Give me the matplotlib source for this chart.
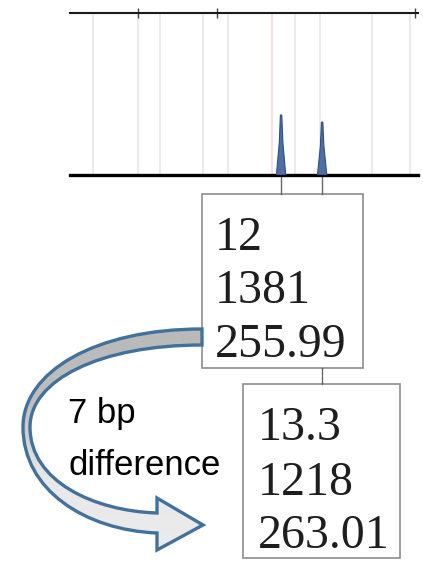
import numpy as np
import matplotlib.pyplot as plt
from matplotlib.path import Path
from matplotlib.patches import PathPatch, Rectangle
from matplotlib.colors import LinearSegmentedColormap

# peaks (allele call, height in RFU, size in bp)
peak_allele = ['12', '13.3']
peak_rfu = [1381, 1218]
peak_bp = [255.99, 263.01]
# faint bin lines and scale ticks of the electropherogram (bp)
bin_lines = [223.9, 231.6, 235.3, 242.7, 246.9, 254.5, 258.4, 262.7, 271.5, 278.0]
bin_colors = ['#ebebeb'] * 5 + ['#f6e2e0'] + ['#ebebeb'] * 4
scale_ticks = [231.5, 245.0, 278.9]

W, H = 423, 562
fig = plt.figure(figsize=(W / 100, H / 100), dpi=100)
fig.patch.set_facecolor('white')

# electropherogram panel
ax = fig.add_axes([70 / W, 1 - 175 / H, 348 / W, 162 / H])
ax.set_xlim(219.9, 279.4)
ax.set_ylim(0, 3730)
for b, c in zip(bin_lines, bin_colors):
    ax.axvline(b, color=c, lw=1.5, zorder=1)
for x, h in zip(peak_bp, peak_rfu):
    ax.fill([x - 0.8, x - 0.3, x - 0.12, x + 0.12, x + 0.3, x + 0.8],
            [0, h * 0.55, h, h, h * 0.55, 0],
            facecolor='#4d6fa3', edgecolor='#2f4f82', lw=0.8, zorder=3)
ax.spines['left'].set_visible(False)
ax.spines['right'].set_visible(False)
ax.spines['bottom'].set_linewidth(2.4)
ax.spines['top'].set_linewidth(1.5)
ax.spines['top'].set_color('#1a1a1a')
ax.set_yticks([])
ax.set_xticks(scale_ticks)
ax.tick_params(axis='x', top=True, bottom=False, labeltop=False, labelbottom=False,
               direction='inout', length=7, width=1, color='#444444')

# overlay in pixel coordinates for boxes, connectors and arrow
ov = fig.add_axes([0, 0, 1, 1], zorder=5)
ov.set_xlim(0, W)
ov.set_ylim(H, 0)
ov.axis('off')

def to_px(x):
    dx, dy = ax.transData.transform((x, 0))
    return dx, H - dy

px = [to_px(x)[0] for x in peak_bp]
base_y = to_px(peak_bp[0])[1]

boxes = [(202, 194, 363, 368), (243, 384, 400, 558)]
text_x = [215, 258]
text_y = [[250, 303, 357], [440, 495, 548]]

for x in px:
    ov.plot([x, x], [base_y + 2, boxes[0][1]], color='#666666', lw=1)
ov.plot([px[1], px[1]], [boxes[0][3], boxes[1][1]], color='#666666', lw=1)

for i, (x0, y0, x1, y1) in enumerate(boxes):
    ov.add_patch(Rectangle((x0, y0), x1 - x0, y1 - y0, facecolor='white',
                           edgecolor='#8c8c8c', lw=1.2))
    vals = [peak_allele[i], str(peak_rfu[i]), f'{peak_bp[i]:.2f}']
    for v, ty in zip(vals, text_y[i]):
        ov.text(text_x[i], ty, v, family='Liberation Serif', fontsize=34.5,
                color='#1e1e1e', va='baseline', ha='left')

# curved block arrow
verts = [
    (202, 329),
    (95, 329), (23, 372), (23, 427),
    (23, 490), (85, 530), (157, 533),
    (157, 550), (203, 525), (157, 498), (157, 513),
    (95, 511), (30, 482), (30, 427),
    (30, 380), (100, 345), (202, 345),
    (202, 329),
]
codes = [Path.MOVETO,
         Path.CURVE4, Path.CURVE4, Path.CURVE4,
         Path.CURVE4, Path.CURVE4, Path.CURVE4,
         Path.LINETO, Path.LINETO, Path.LINETO, Path.LINETO,
         Path.CURVE4, Path.CURVE4, Path.CURVE4,
         Path.CURVE4, Path.CURVE4, Path.CURVE4,
         Path.CLOSEPOLY]
arrow = PathPatch(Path(verts, codes), facecolor='none', edgecolor='#41719c',
                  lw=2.4, zorder=6, joinstyle='miter')
grad = np.linspace(0, 1, 256).reshape(-1, 1)
cmap = LinearSegmentedColormap.from_list('g', ['#b9b9b9', '#bfbfbf', '#e8e8e8', '#ececec'])
img = ov.imshow(grad, cmap=cmap, extent=(20, 206, 552, 326), aspect='auto', zorder=5)
clip = PathPatch(Path(verts, codes), facecolor='none', edgecolor='none')
ov.add_patch(clip)
img.set_clip_path(clip)
ov.add_patch(arrow)
ov.set_xlim(0, W)
ov.set_ylim(H, 0)

diff = round(peak_bp[1] - peak_bp[0])
ov.text(68, 423, f'{diff} bp', family='Liberation Sans', fontsize=25,
        color='black', va='baseline', ha='left')
ov.text(68, 475, 'difference', family='Liberation Sans', fontsize=25,
        color='black', va='baseline', ha='left')

fig.savefig('out.png', dpi=100)
